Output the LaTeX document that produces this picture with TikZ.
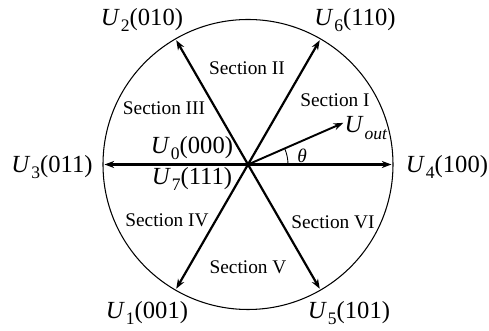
\documentclass[tikz,border=0pt]{standalone}
\usepackage{fontspec}
\setmainfont{Liberation Serif}
\usepackage{tikz}
\usetikzlibrary{arrows.meta, positioning, calc}

\newcommand{\Uv}[1]{\textit{U}\kern0.5pt\raisebox{-0.5ex}{\fontsize{10}{10}\selectfont #1}}

\begin{document}
\begin{tikzpicture}[
    vecline/.style={line width=1.25pt, -{Stealth[length=5.5pt, width=4pt]}},
    vlabel/.style={font=\fontsize{14}{16}\selectfont, inner sep=0pt},
    sect/.style={font=\fontsize{11}{13}\selectfont, inner sep=0pt},
]

% ── Frame ───────────────────────────────────────────────────────────────────
\useasboundingbox (-4.96, -3.33) rectangle (4.82, 3.29);

\def\rad{2.9}
\def\vlen{2.87}

\coordinate (O) at (0, 0);
\draw[line width=0.6pt] (O) circle (\rad);

% ── Basic voltage vectors ───────────────────────────────────────────────────
\coordinate (t4) at (0:\vlen);
\coordinate (t6) at (60:\vlen);
\coordinate (t2) at (120:\vlen);
\coordinate (t3) at (180:\vlen);
\coordinate (t1) at (240:\vlen);
\coordinate (t5) at (300:\vlen);

\draw[vecline] (O) -- (t4);
\draw[vecline] (O) -- (t6);
\draw[vecline] (O) -- (t2);
\draw[vecline] (O) -- (t3);
\draw[vecline] (O) -- (t1);
\draw[vecline] (O) -- (t5);

\node[vlabel] (l4) at (3.98, -0.05)  {\Uv{4}(100)};
\node[vlabel] (l6) at (2.14, 2.89)   {\Uv{6}(110)};
\node[vlabel] (l2) at (-2.12, 2.89)  {\Uv{2}(010)};
\node[vlabel] (l3) at (-3.92, -0.05) {\Uv{3}(011)};
\node[vlabel] (l1) at (-2.02, -2.97) {\Uv{1}(001)};
\node[vlabel] (l5) at (2.02, -2.97)  {\Uv{5}(101)};

% zero vectors at the origin
\node[vlabel] (l0) at (-1.12, 0.33)  {\Uv{0}(000)};
\node[vlabel] (l7) at (-1.12, -0.29) {\Uv{7}(111)};

% ── Sections ────────────────────────────────────────────────────────────────
\node[sect] (s1) at (1.74, 1.29)   {Section I};
\node[sect] (s2) at (-0.02, 1.93)  {Section II};
\node[sect] (s3) at (-1.68, 1.13)  {Section III};
\node[sect] (s4) at (-1.62, -1.11) {Section IV};
\node[sect] (s5) at (0, -2.05)     {Section V};
\node[sect] (s6) at (1.70, -1.15)  {Section VI};

% ── Output vector and angle ─────────────────────────────────────────────────
\coordinate (tout) at (23.6:2.08);
\draw[line width=1.1pt, -{Stealth[length=5.5pt, width=4pt]}] (O) -- (tout);
\node[vlabel, anchor=west] (lout) at ($(tout)+(0.02,-0.1)$)
    {\textit{U}\kern0.5pt\raisebox{-0.6ex}{\fontsize{10}{10}\selectfont\textit{out}}};

\draw[line width=0.5pt] (0.8, 0) arc (0:23.6:0.8);
\node[font=\fontsize{11}{13}\selectfont, inner sep=0pt] (th) at (1.08, 0.17) {\textit{θ}};

\end{tikzpicture}
\end{document}
